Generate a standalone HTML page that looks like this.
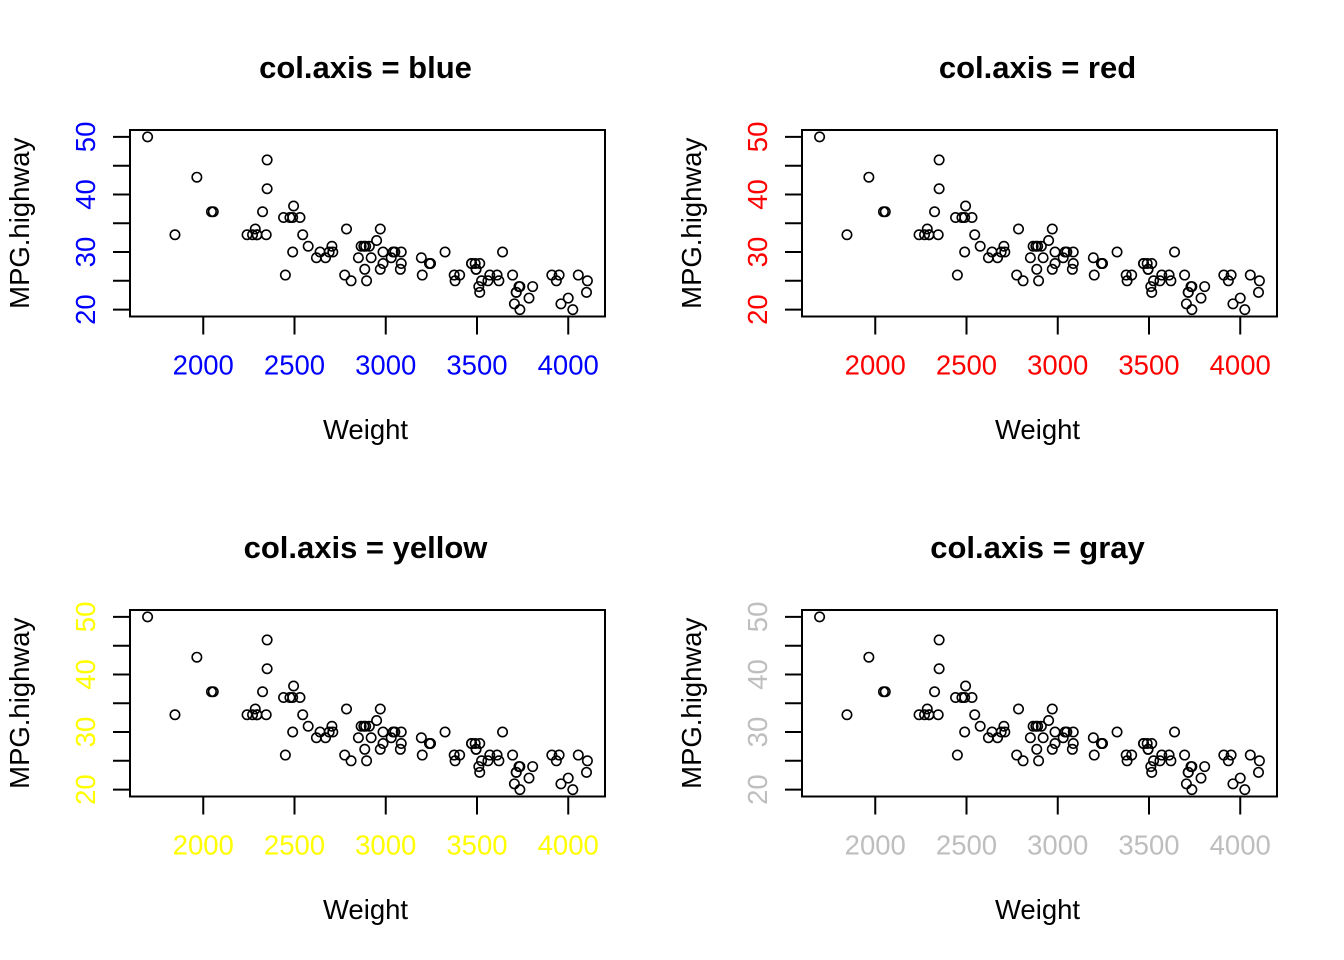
<!DOCTYPE html>
<html><head><meta charset="utf-8"><style>
html,body{margin:0;padding:0;background:#fff;}
svg{display:block;font-family:"Liberation Sans",Arial,sans-serif;}
</style></head><body>
<svg id="chart" width="1344" height="960" viewBox="0 0 1344 960" xmlns="http://www.w3.org/2000/svg"></svg>
<script>
const weights = [2705,3560,3375,3405,3640,2880,3470,4105,3495,3620,3935,2490,2785,3240,3195,3715,4025,3910,3380,3515,3085,3570,2270,2670,2970,3705,3080,3805,2295,3490,1845,2530,2690,2850,2710,3735,3325,3950,1695,2475,2865,2350,3040,2345,2620,2285,2885,4000,3510,3515,3695,4055,2325,2440,2970,3735,2895,2920,3525,2450,3610,2295,3730,2545,3050,4100,3200,2910,2890,3715,3470,2640,2350,2575,3240,3495,3245,2775,2495,2045,2490,3085,1965,2055,2950,3030,3785,2240,3960,2985,2810,2985,3245];
const mpgHighway = [31,25,26,26,30,31,28,25,27,25,25,36,34,28,29,23,20,26,25,28,28,26,33,29,27,21,27,24,33,28,33,36,30,29,30,20,30,26,50,36,31,46,30,33,29,34,27,22,24,23,26,26,37,36,34,24,25,29,25,26,26,33,24,33,30,23,26,31,31,23,28,30,41,31,28,27,28,26,38,37,30,30,43,37,32,29,22,33,21,30,25,28,28];
const xTicks = [2000,2500,3000,3500,4000];
const yTicks = [20,25,30,35,40,45,50];
const yLabels = [20,30,40,50];
const panelColors = ["blue","red","yellow","gray"];
const panelColorValues = ["#0000ff","#ff0000","#ffff00","#bebebe"];

const NS = "http://www.w3.org/2000/svg";
const svg = document.getElementById("chart");
function mk(tag, attrs, parent){
  const e = document.createElementNS(NS, tag);
  for (const k in attrs) e.setAttribute(k, attrs[k]);
  (parent||svg).appendChild(e);
  return e;
}
const xMin = 1598.6, xMax = 4201.4, yMin = 18.8, yMax = 51.2;
const panelW = 475, panelH = 186.5;
const origins = [[130,130],[802,130],[130,610],[802,610]];

panelColors.forEach((cname, i) => {
  const [px, py] = origins[i];
  const col = panelColorValues[i];
  const g = mk("g", {});
  
  
  const sx = v => px + (v - xMin) / (xMax - xMin) * panelW;
  const sy = v => py + panelH - (v - yMin) / (yMax - yMin) * panelH;

  const t = mk("text", {x: px + panelW/2 - 2, y: py - 52, "text-anchor":"middle", "font-size":"31", "font-weight":"bold", fill:"#000"}, g);
  t.textContent = "col.axis = " + cname;
  
  

  const box = mk("rect", {x:px, y:py, width:panelW, height:panelH, fill:"none", stroke:"#000", "stroke-width":"2"}, g);
  
  

  xTicks.forEach(v => {
    const l = mk("line", {x1:sx(v), x2:sx(v), y1:py+panelH, y2:py+panelH+18, stroke:"#000", "stroke-width":"2"}, g);
    
    
    const tx = mk("text", {x:sx(v), y:py+panelH+58, "text-anchor":"middle", "font-size":"27.5", fill:col}, g);
    tx.textContent = v;
    
    
  });
  yTicks.forEach(v => {
    const l = mk("line", {x1:px-17, x2:px, y1:sy(v), y2:sy(v), stroke:"#000", "stroke-width":"2"}, g);
    
    
  });
  yLabels.forEach(v => {
    const tx = mk("text", {x:0, y:0, "text-anchor":"middle", "font-size":"27.5", fill:col, transform:`translate(${px-35},${sy(v)}) rotate(-90)`}, g);
    tx.textContent = v;
    
    
  });
  const xl = mk("text", {x:px+panelW/2 - 2, y:py+309, "text-anchor":"middle", "font-size":"27.5", fill:"#000"}, g);
  xl.textContent = "Weight";
  
  
  const yl = mk("text", {x:0, y:0, "text-anchor":"middle", "font-size":"27.5", fill:"#000", transform:`translate(${px-101},${py+panelH/2}) rotate(-90)`}, g);
  yl.textContent = "MPG.highway";
  
  

  weights.forEach((w, j) => {
    const c = mk("circle", {cx:sx(w), cy:sy(mpgHighway[j]), r:4.7, fill:"none", stroke:"#000", "stroke-width":"1.6"}, g);
    
    
  });
});
</script>
</body></html>
